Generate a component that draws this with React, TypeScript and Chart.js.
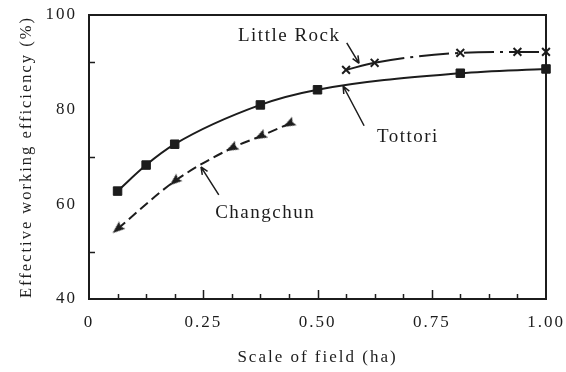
import React, { useEffect, useRef } from "react";
import { Chart, registerables } from "chart.js";
Chart.register(...registerables);

const INK = "#1c1c1c";

// Series data
const tottoriX = [0.0625, 0.125, 0.1875, 0.375, 0.5, 0.8125, 1.0];
const tottoriY = [62.8, 68.3, 72.7, 81.0, 84.2, 87.7, 88.6];
const littleRockX = [0.5625, 0.625, 0.8125, 0.9375, 1.0];
const littleRockY = [88.4, 89.9, 92.0, 92.2, 92.2];
const changchunX = [0.0625, 0.1875, 0.3125, 0.375, 0.4375];
const changchunY = [54.8, 64.9, 71.9, 74.4, 77.0];

// Ticks
const xTickValues = [0, 0.25, 0.5, 0.75, 1.0];
const xTickLabels = ["0", "0.25", "0.50", "0.75", "1.00"];
const yTickValues = [40, 60, 80, 100];
const yTickLabels = ["40", "60", "80", "100"];
const xMinorTicks = [0.0625, 0.125, 0.1875, 0.3125, 0.375, 0.4375, 0.5625, 0.625, 0.6875, 0.8125, 0.875, 0.9375];
const xMajorInner = [0.25, 0.5, 0.75];
const yMinorTicks = [50, 70, 90];

// Annotation labels (data coordinates)
const annoText = ["Little Rock", "Tottori", "Changchun"];
const annoTextX = [0.326, 0.630, 0.276];
const annoTextY = [95.6, 74.3, 58.2];
const arrowFromX = [0.564, 0.602, 0.284];
const arrowFromY = [94.1, 76.6, 62.0];
const arrowToX = [0.591, 0.556, 0.245];
const arrowToY = [89.8, 85.0, 67.9];

const pts = (xs: number[], ys: number[]) => xs.map((x, i) => ({ x, y: ys[i] }));

// Arrowhead-shaped marker (points left before rotation)
function makeArrowMarker(): HTMLCanvasElement {
  const c = document.createElement("canvas");
  c.width = 14;
  c.height = 14;
  const g = c.getContext("2d")!;
  g.fillStyle = INK;
  g.beginPath();
  g.moveTo(0.5, 7);
  g.lineTo(13, 2.2);
  g.lineTo(11, 7);
  g.lineTo(13, 11.8);
  g.closePath();
  g.fill();
  return c;
}

const decorPlugin = {
  id: "decor",
  beforeUpdate(chart: any) {
    chart.ctx.letterSpacing = "2px";
  },
  beforeDraw(chart: any) {
    chart.ctx.letterSpacing = "2px";
  },
  beforeDatasetsDraw(chart: any) {
    const { ctx, chartArea: a, scales } = chart;
    const x = scales.x;
    const y = scales.y;
    ctx.save();
    ctx.strokeStyle = INK;
    ctx.lineWidth = 2;
    ctx.strokeRect(a.left, a.top, a.right - a.left, a.bottom - a.top);
    ctx.lineWidth = 1.5;
    ctx.beginPath();
    for (const v of xMinorTicks) {
      const px = Math.round(x.getPixelForValue(v)) + 0.5;
      ctx.moveTo(px, a.bottom);
      ctx.lineTo(px, a.bottom - 5);
    }
    for (const v of xMajorInner) {
      const px = Math.round(x.getPixelForValue(v)) + 0.5;
      ctx.moveTo(px, a.bottom);
      ctx.lineTo(px, a.bottom - 9);
    }
    for (const v of yMinorTicks) {
      const py = Math.round(y.getPixelForValue(v)) + 0.5;
      ctx.moveTo(a.left, py);
      ctx.lineTo(a.left + 6, py);
    }
    ctx.stroke();
    ctx.restore();
  },
  afterDraw(chart: any) {
    const { ctx, scales } = chart;
    const x = scales.x;
    const y = scales.y;
    ctx.save();
    ctx.fillStyle = INK;
    ctx.strokeStyle = INK;
    ctx.font = '19px "Liberation Serif"';
    ctx.letterSpacing = "1.5px";
    ctx.textBaseline = "middle";
    ctx.textAlign = "left";
    for (let i = 0; i < annoText.length; i++) {
      ctx.fillText(annoText[i], x.getPixelForValue(annoTextX[i]), y.getPixelForValue(annoTextY[i]));
      const fx = x.getPixelForValue(arrowFromX[i]);
      const fy = y.getPixelForValue(arrowFromY[i]);
      const tx = x.getPixelForValue(arrowToX[i]);
      const ty = y.getPixelForValue(arrowToY[i]);
      ctx.lineWidth = 1.5;
      ctx.beginPath();
      ctx.moveTo(fx, fy);
      ctx.lineTo(tx, ty);
      const ang = Math.atan2(ty - fy, tx - fx);
      const L = 8;
      const w = 0.4;
      ctx.moveTo(tx, ty);
      ctx.lineTo(tx - L * Math.cos(ang - w), ty - L * Math.sin(ang - w));
      ctx.moveTo(tx, ty);
      ctx.lineTo(tx - L * Math.cos(ang + w), ty - L * Math.sin(ang + w));
      ctx.stroke();
    }
    ctx.restore();
  },
};

export default function App() {
  const ref = useRef<HTMLCanvasElement | null>(null);
  useEffect(() => {
    document.body.style.margin = "0";
    const canvas = ref.current;
    if (!canvas) return;
    const arrowMarker = makeArrowMarker();
    const chart = new Chart(canvas, {
      type: "line",
      data: {
        datasets: [
          {
            label: "Tottori",
            data: pts(tottoriX, tottoriY),
            borderColor: INK,
            backgroundColor: INK,
            borderWidth: 2,
            pointStyle: "rect",
            pointRadius: 6,
            pointBorderWidth: 1,
            cubicInterpolationMode: "monotone",
            clip: false,
          },
          {
            label: "Little Rock",
            data: pts(littleRockX, littleRockY),
            borderColor: INK,
            backgroundColor: INK,
            borderWidth: 2,
            borderDash: [30, 6, 3, 6],
            segment: {
              borderDash: (c: any) => (c.p0DataIndex === 0 ? [] : [30, 6, 3, 6]),
            },
            pointStyle: "crossRot",
            pointRadius: 5.5,
            pointBorderWidth: 2,
            cubicInterpolationMode: "monotone",
            clip: false,
          },
          {
            label: "Changchun",
            data: pts(changchunX, changchunY),
            borderColor: INK,
            backgroundColor: INK,
            borderWidth: 2,
            borderDash: [10, 5],
            pointStyle: arrowMarker,
            pointRotation: (c: any) => (c.dataIndex < 2 ? -40 : -28),
            pointRadius: 7,
            pointBorderWidth: 0,
            cubicInterpolationMode: "monotone",
            clip: false,
          },
        ],
      },
      options: {
        responsive: false,
        animation: false,
        events: [],
        layout: { padding: { top: 15, right: 20, left: 0, bottom: 0 } },
        plugins: {
          legend: { display: false },
          tooltip: { enabled: false },
        },
        scales: {
          x: {
            type: "linear",
            min: 0,
            max: 1,
            grid: { display: false, drawTicks: false },
            border: { display: false },
            afterBuildTicks: (s: any) => {
              s.ticks = xTickValues.map((v) => ({ value: v }));
            },
            afterFit: (s: any) => {
              s.height = 73;
              s.paddingLeft = 0;
              s.paddingRight = 0;
            },
            ticks: {
              color: INK,
              padding: 13,
              maxRotation: 0,
              autoSkip: false,
              font: { family: '"Liberation Serif"', size: 17 },
              callback: (v: any) => {
                const i = xTickValues.indexOf(Number(v));
                return i >= 0 ? xTickLabels[i] : "";
              },
            },
            title: {
              display: true,
              text: "Scale of field (ha)",
              color: INK,
              font: { family: '"Liberation Serif"', size: 17 },
              padding: { top: 0, bottom: 4 },
            },
          },
          y: {
            type: "linear",
            min: 40,
            max: 100,
            grid: { display: false, drawTicks: false },
            border: { display: false },
            afterBuildTicks: (s: any) => {
              s.ticks = yTickValues.map((v) => ({ value: v }));
            },
            afterFit: (s: any) => {
              s.width = 89;
              s.paddingTop = 0;
              s.paddingBottom = 0;
            },
            ticks: {
              color: INK,
              padding: 12,
              autoSkip: false,
              font: { family: '"Liberation Serif"', size: 17 },
              callback: (v: any) => {
                const i = yTickValues.indexOf(Number(v));
                return i >= 0 ? yTickLabels[i] : "";
              },
            },
            title: {
              display: true,
              text: "Effective working efficiency (%)",
              color: INK,
              font: { family: '"Liberation Serif"', size: 16.5 },
              padding: { top: 17, bottom: 0 },
            },
          },
        },
      },
      plugins: [decorPlugin],
    } as any);
    return () => chart.destroy();
  }, []);
  return (
    <canvas
      ref={ref}
      width={566}
      height={372}
      style={{ position: "absolute", left: 0, top: 0, width: 566, height: 372, background: "#fff" }}
    />
  );
}
